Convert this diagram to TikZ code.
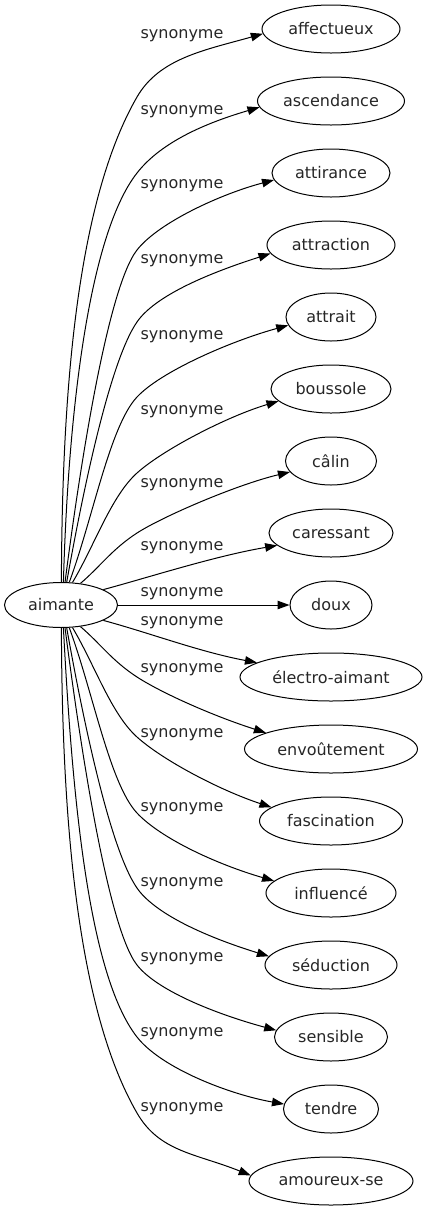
\documentclass[tikz,border=0pt]{standalone}
\usepackage{fontspec}
\setmainfont{DejaVu Sans}
\usetikzlibrary{shapes.geometric,arrows.meta}
\begin{document}
\begin{tikzpicture}[x=1pt,y=-1pt,
  every node/.style={font=\fontsize{16}{19}\selectfont, text=black!85},
  term/.style={draw, ellipse, inner sep=0pt, minimum height=48pt, line width=1pt},
  lbl/.style={inner sep=0pt},
  syn/.style={line width=1pt, -{Triangle[length=12pt,width=8.5pt]}}]
\useasboundingbox (0,0) rectangle (426,1211);
\node[term, minimum width=113pt, minimum height=45pt] (aim) at (61,605) {aimante};
\node[term, minimum width=138pt] (t1) at (331,29) {affectueux};
\node[term, minimum width=147pt] (t2) at (331,101) {ascendance};
\node[term, minimum width=118pt] (t3) at (331,173) {attirance};
\node[term, minimum width=128pt] (t4) at (331,245) {attraction};
\node[term, minimum width=90pt] (t5) at (331,317) {attrait};
\node[term, minimum width=120pt] (t6) at (331,389) {boussole};
\node[term, minimum width=91pt] (t7) at (331,461) {câlin};
\node[term, minimum width=124pt] (t8) at (331,533) {caressant};
\node[term, minimum width=82pt] (t9) at (331,605) {doux};
\node[term, minimum width=182pt] (t10) at (331,677) {électro-aimant};
\node[term, minimum width=173pt] (t11) at (331,749) {envoûtement};
\node[term, minimum width=143pt] (t12) at (331,821) {fascination};
\node[term, minimum width=130pt] (t13) at (331,893) {influencé};
\node[term, minimum width=132pt] (t14) at (331,965) {séduction};
\node[term, minimum width=113pt] (t15) at (331,1037) {sensible};
\node[term, minimum width=95pt] (t16) at (331,1109) {tendre};
\node[term, minimum width=164pt] (t17) at (331,1181) {amoureux-se};

\draw[syn] (aim.89) .. controls (62,390) and (77,201) .. (137,97)
  .. controls (159.5,58) and (205.4,50) .. (t1.184);
\draw[syn] (aim.84) .. controls (68,418.7) and (87.7,236) .. (137,173)
  .. controls (161.6,141.5) and (206.8,122.7) .. (t2.185);
\draw[syn] (aim.80) .. controls (77.7,483.7) and (106.2,289.4) .. (137,250)
  .. controls (158.6,222.4) and (221.3,193.8) .. (t3.187);
\draw[syn] (aim.76) .. controls (82.3,494.6) and (111.1,352.5) .. (140,318)
  .. controls (162.5,291.2) and (218.8,270) .. (t4.188);
\draw[syn] (aim.70) .. controls (93,518) and (109.7,426.2) .. (137,397)
  .. controls (160.9,371.4) and (231,341) .. (t5.191);
\draw[syn] (aim.63) .. controls (94.8,545) and (111,496.4) .. (137,473)
  .. controls (163,449.6) and (227.2,416.4) .. (t6.193);
\draw[syn] (aim.48) .. controls (100,566.8) and (111.8,549.4) .. (137,533)
  .. controls (162.2,516.7) and (236.6,484.6) .. (t7.195);
\draw[syn] (aim.20) .. controls (150,577) and (215,556) .. (t8.193);
\draw[syn] (aim.0) -- (t9.180);
\draw[syn] (aim.340) .. controls (150,633) and (200,652) .. (t10.169);
\draw[syn] (aim.312) .. controls (100,643.2) and (111.8,660.6) .. (137,677)
  .. controls (162.2,693.3) and (213.4,716) .. (t11.166);
\draw[syn] (aim.297) .. controls (94.8,665) and (111,713.6) .. (137,737)
  .. controls (163,760.4) and (220,790.3) .. (t12.167);
\draw[syn] (aim.290) .. controls (93,692) and (109.7,783.8) .. (137,813)
  .. controls (160.9,838.6) and (217.4,864.5) .. (t13.168);
\draw[syn] (aim.284) .. controls (82.3,715.4) and (111.1,857.5) .. (140,892)
  .. controls (162.5,918.8) and (216.7,940.2) .. (t14.172);
\draw[syn] (aim.280) .. controls (77.7,726.3) and (106.2,925.6) .. (137,965)
  .. controls (158.6,992.6) and (223.6,1016.2) .. (t15.173);
\draw[syn] (aim.276) .. controls (72,791.3) and (87.7,974) .. (137,1037)
  .. controls (161.6,1068.5) and (230.3,1094.6) .. (t16.174);
\draw[syn] (aim.271) .. controls (62,820) and (77,1009) .. (137,1113)
  .. controls (159.5,1152) and (195.8,1153.4) .. (t17.176);

\node[lbl] (l1) at (182,36) {synonyme};
\node[lbl] (l2) at (182,111.7) {synonyme};
\node[lbl] (l3) at (182,186) {synonyme};
\node[lbl] (l4) at (182,260.7) {synonyme};
\node[lbl] (l5) at (182,336.7) {synonyme};
\node[lbl] (l6) at (182,411.7) {synonyme};
\node[lbl] (l7) at (182,485) {synonyme};
\node[lbl] (l8) at (182,547.3) {synonyme};
\node[lbl] (l9) at (182,593.3) {synonyme};
\node[lbl] (l10) at (182,622.7) {synonyme};
\node[lbl] (l11) at (182,670) {synonyme};
\node[lbl] (l12) at (182,735) {synonyme};
\node[lbl] (l13) at (182,808.3) {synonyme};
\node[lbl] (l14) at (182,883.3) {synonyme};
\node[lbl] (l15) at (182,958.3) {synonyme};
\node[lbl] (l16) at (182,1033.3) {synonyme};
\node[lbl] (l17) at (182,1108.3) {synonyme};
\end{tikzpicture}
\end{document}
